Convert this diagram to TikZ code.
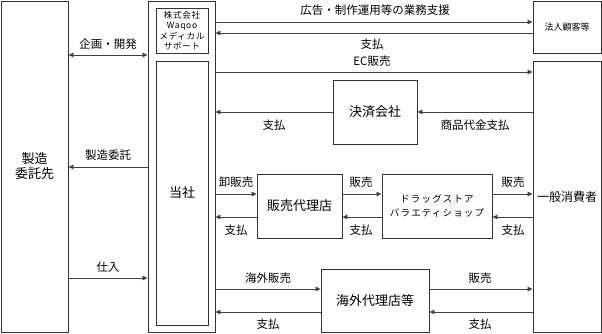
\documentclass[tikz,border=0pt]{standalone}
\usepackage{fontspec}
\setmainfont{Noto Sans CJK JP}
\usetikzlibrary{arrows.meta}

\begin{document}
\begin{tikzpicture}[x=1pt,y=-1pt,
  box/.style={rectangle,draw=black!80,line width=0.9pt,inner sep=0pt,
              align=center,font=\fontsize{13}{15}\selectfont},
  sbox/.style={box,font=\fontsize{8.5}{10.5}\selectfont\addfontfeature{LetterSpace=8}},
  lbl/.style={inner sep=0pt,font=\fontsize{11.5}{13}\selectfont},
  arrow/.style={-{Triangle[length=5pt,width=4.5pt]},line width=0.8pt,draw=black!75},
  darrow/.style={{Triangle[length=5pt,width=4.5pt]}-{Triangle[length=5pt,width=4.5pt]},
                 line width=0.8pt,draw=black!75}
]
\useasboundingbox (0,0) rectangle (602,333);

% boxes
\node[box,minimum width=67pt,minimum height=331pt] (itaku) at (34.5,166.5) {製造\\委託先};
\node[box,minimum width=67pt,minimum height=331pt] (outer) at (181.5,166.5) {};
\node[sbox,minimum width=52pt,minimum height=45pt] (waqoo) at (182,30.5)
  {株式会社\\Waqoo\\メディカル\\サポート};
\node[box,minimum width=52pt,minimum height=264pt] (tousha) at (182,193) {当社};

\node[box,font=\fontsize{9}{11}\selectfont,minimum width=68pt,minimum height=52pt] (hojin) at (567,27) {法人顧客等};
\node[box,font=\fontsize{12}{14}\selectfont,minimum width=68pt,minimum height=271pt] (ippan) at (567,196.5) {一般消費者};

\node[box,minimum width=84pt,minimum height=64pt] (kessai) at (375,112) {決済会社};
\node[box,minimum width=85pt,minimum height=64pt] (dairiten) at (299.5,206) {販売代理店};
\node[box,font=\fontsize{9.5}{14}\selectfont\addfontfeature{LetterSpace=12},
      minimum width=110pt,minimum height=64pt] (drug) at (437,206)
  {ドラッグストア\\バラエティショップ};
\node[box,minimum width=108pt,minimum height=63pt] (kaigai) at (375,300.5) {海外代理店等};

% y levels
\coordinate (ykikaku) at (0,55);
\coordinate (yseizo) at (0,167);
\coordinate (yshiire) at (0,278);
\coordinate (ykoukoku) at (0,22);
\coordinate (yshi1) at (0,33);
\coordinate (yec) at (0,72);
\coordinate (yhan) at (0,194);
\coordinate (yshi2) at (0,217);
\coordinate (ykaigai) at (0,289);
\coordinate (yshi3) at (0,312);

% arrows
\draw[darrow] (itaku.east |- ykikaku) -- (outer.west |- ykikaku);
\draw[arrow] (outer.west |- yseizo) -- (itaku.east |- yseizo);
\draw[arrow] (itaku.east |- yshiire) -- (outer.west |- yshiire);

\draw[arrow] (outer.east |- ykoukoku) -- (hojin.west |- ykoukoku);
\draw[arrow] (hojin.west |- yshi1) -- (outer.east |- yshi1);
\draw[arrow] (outer.east |- yec) -- (ippan.west |- yec);

\draw[arrow] (ippan.west |- kessai.east) -- (kessai.east);
\draw[arrow] (kessai.west) -- (outer.east |- kessai.west);

\draw[arrow] (outer.east |- yhan) -- (dairiten.west |- yhan);
\draw[arrow] (dairiten.west |- yshi2) -- (outer.east |- yshi2);
\draw[arrow] (dairiten.east |- yhan) -- (drug.west |- yhan);
\draw[arrow] (drug.west |- yshi2) -- (dairiten.east |- yshi2);
\draw[arrow] (drug.east |- yhan) -- (ippan.west |- yhan);
\draw[arrow] (ippan.west |- yshi2) -- (drug.east |- yshi2);

\draw[arrow] (outer.east |- ykaigai) -- (kaigai.west |- ykaigai);
\draw[arrow] (kaigai.west |- yshi3) -- (outer.east |- yshi3);
\draw[arrow] (kaigai.east |- ykaigai) -- (ippan.west |- ykaigai);
\draw[arrow] (ippan.west |- yshi3) -- (kaigai.east |- yshi3);

% labels
\node[lbl] (lkikaku) at (108,44) {企画・開発};
\node[lbl] (lseizo) at (108,155) {製造委託};
\node[lbl] (lshiire) at (108,267) {仕入};
\node[lbl] (lkoukoku) at (375,10) {広告・制作運用等の業務支援};
\node[lbl] (lshi1) at (372,44) {支払};
\node[lbl] (lec) at (372,61) {EC販売};
\node[lbl] (lshi2) at (274,125) {支払};
\node[lbl] (lshohin) at (475,125) {商品代金支払};
\node[lbl] (loroshi) at (236,182) {卸販売};
\node[lbl] (lshi3) at (236,230) {支払};
\node[lbl] (lhan1) at (361,182) {販売};
\node[lbl] (lshi4) at (361,230) {支払};
\node[lbl] (lhan2) at (513,182) {販売};
\node[lbl] (lshi5) at (513,230) {支払};
\node[lbl] (lkaigai) at (268,278) {海外販売};
\node[lbl] (lshi6) at (268,324) {支払};
\node[lbl] (lhan3) at (480,278) {販売};
\node[lbl] (lshi7) at (480,324) {支払};
\end{tikzpicture}
\end{document}
